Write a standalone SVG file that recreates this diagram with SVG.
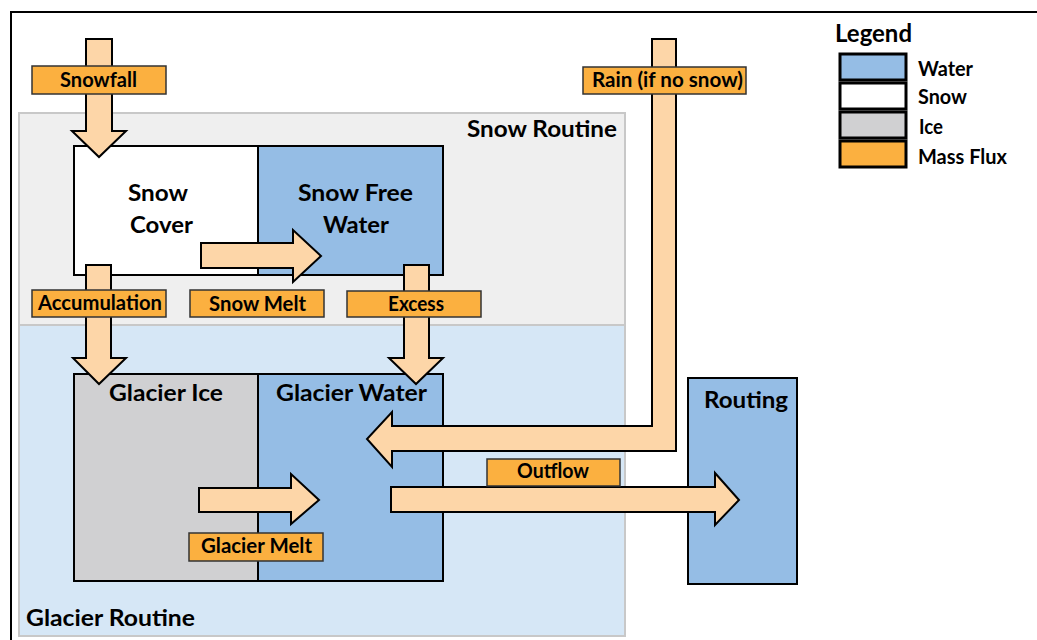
<svg xmlns="http://www.w3.org/2000/svg" width="1037" height="640" viewBox="0 0 1037 640">
<style>
text{font-family:Lato,"Liberation Sans",sans-serif;font-weight:bold;fill:#000}
.big{font-size:23.5px}
.lab{font-size:20px}
.leg{font-size:20px}
.node{stroke:#000;stroke-width:2}
.water{fill:#95bde5}
.snow{fill:#ffffff}
.ice{fill:#d0d0d2}
.flux{fill:#fbb040}
.arrow{fill:#fdd6a8;stroke:#000;stroke-width:2;stroke-linejoin:miter}
.label{fill:#fbb040;stroke:#333;stroke-width:1.5}
.region{stroke:#c8c8c8;stroke-width:2}
</style>
<rect width="1037" height="640" fill="#fff"/>
<rect x="11" y="12" width="1040" height="650" fill="none" stroke="#000" stroke-width="2"/>

<g id="snow-routine">
<rect class="region" x="19" y="113" width="606" height="212" fill="#efefef"/>
<text class="big" x="467" y="137" textLength="150" lengthAdjust="spacingAndGlyphs">Snow Routine</text>
</g>
<g id="glacier-routine">
<rect class="region" x="19" y="325" width="606" height="311" fill="#d6e7f6"/>
<text class="big" x="26" y="626" textLength="169" lengthAdjust="spacingAndGlyphs">Glacier Routine</text>
</g>

<g id="snow-cover">
<rect class="node snow" x="74" y="146" width="184" height="129"/>
<text class="big" x="128" y="201" textLength="60" lengthAdjust="spacingAndGlyphs">Snow</text>
<text class="big" x="130" y="233" textLength="63" lengthAdjust="spacingAndGlyphs">Cover</text>
</g>
<g id="snow-free-water">
<rect class="node water" x="258" y="146" width="185" height="129"/>
<text class="big" x="298" y="201" textLength="115" lengthAdjust="spacingAndGlyphs">Snow Free</text>
<text class="big" x="323" y="233" textLength="66" lengthAdjust="spacingAndGlyphs">Water</text>
</g>
<g id="glacier-ice">
<rect class="node ice" x="74" y="374" width="184" height="207"/>
<text class="big" x="109" y="401" textLength="114" lengthAdjust="spacingAndGlyphs">Glacier Ice</text>
</g>
<g id="glacier-water">
<rect class="node water" x="258" y="374" width="185" height="207"/>
<text class="big" x="276" y="401" textLength="151" lengthAdjust="spacingAndGlyphs">Glacier Water</text>
</g>
<g id="routing">
<rect class="node water" x="688" y="378" width="109" height="206"/>
<text class="big" x="704" y="408" textLength="84" lengthAdjust="spacingAndGlyphs">Routing</text>
</g>

<g id="connectors">
<polygon class="arrow" points="86,39 112,39 112,131 126,131 99,157 72,131 86,131"/>
<polygon class="arrow" points="86,265 111,265 111,358 126,358 99,384 73,358 86,358"/>
<polygon class="arrow" points="404,265 429,265 429,358 443,358 416,384 389,358 404,358"/>
<polygon class="arrow" points="201,243 293,243 293,230 321,256 293,282 293,268 201,268"/>
<polygon class="arrow" points="199,488 291,488 291,474 319,500 291,524 291,512 199,512"/>
<polygon class="arrow" points="391,487 715,487 715,473 739,500 715,525 715,512 391,512"/>
<polygon class="arrow" points="652,39 676,39 676,451 392,451 392,467 367,439 392,412 392,426 652,426"/>
<g id="flux-labels">
<rect class="label" x="32" y="66" width="134" height="28"/>
<text class="lab" x="60" y="87" textLength="77" lengthAdjust="spacingAndGlyphs">Snowfall</text>
<rect class="label" x="583" y="67" width="163" height="27"/>
<text class="lab" x="592" y="87" textLength="151" lengthAdjust="spacingAndGlyphs">Rain (if no snow)</text>
<rect class="label" x="32" y="290" width="134" height="27"/>
<text class="lab" x="38" y="310" textLength="124" lengthAdjust="spacingAndGlyphs">Accumulation</text>
<rect class="label" x="190" y="290" width="134" height="27"/>
<text class="lab" x="209" y="311" textLength="97" lengthAdjust="spacingAndGlyphs">Snow Melt</text>
<rect class="label" x="347" y="291" width="134" height="26"/>
<text class="lab" x="388" y="311" textLength="56" lengthAdjust="spacingAndGlyphs">Excess</text>
<rect class="label" x="487" y="459" width="133" height="27"/>
<text class="lab" x="517" y="478" textLength="72" lengthAdjust="spacingAndGlyphs">Outflow</text>
<rect class="label" x="189" y="533" width="134" height="28"/>
<text class="lab" x="201" y="553" textLength="111" lengthAdjust="spacingAndGlyphs">Glacier Melt</text>
</g>
</g>

<g id="legend">
<text x="835" y="42" font-size="25" textLength="77" lengthAdjust="spacingAndGlyphs">Legend</text>
<rect class="water" x="840" y="54" width="66" height="26" stroke="#000" stroke-width="3"/>
<rect class="snow" x="840" y="83" width="66" height="26" stroke="#000" stroke-width="3"/>
<rect class="ice" x="840" y="112" width="66" height="26" stroke="#000" stroke-width="3"/>
<rect class="flux" x="840" y="141" width="66" height="26" stroke="#000" stroke-width="3"/>
<text class="leg" x="918" y="76" textLength="55" lengthAdjust="spacingAndGlyphs">Water</text>
<text class="leg" x="918" y="104" textLength="49" lengthAdjust="spacingAndGlyphs">Snow</text>
<text class="leg" x="919" y="134" textLength="24" lengthAdjust="spacingAndGlyphs">Ice</text>
<text class="leg" x="918" y="164" textLength="89" lengthAdjust="spacingAndGlyphs">Mass Flux</text>
</g>
</svg>
